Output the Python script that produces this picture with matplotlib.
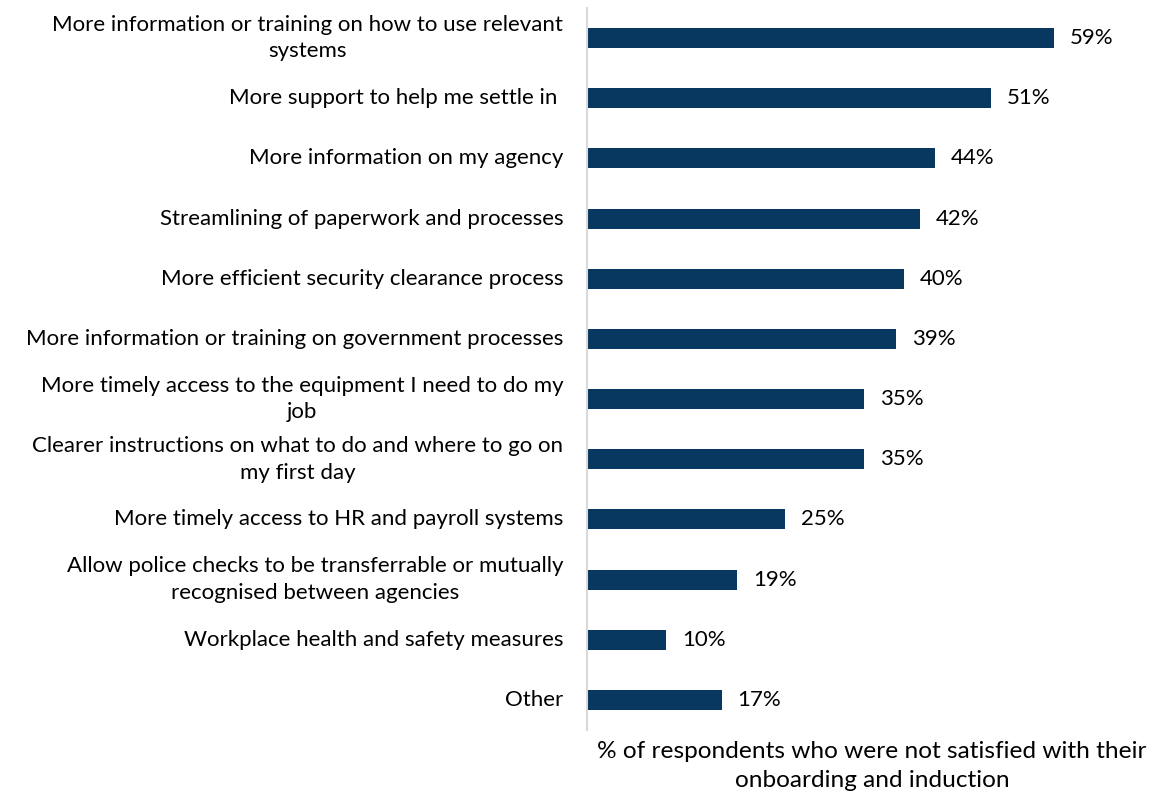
import matplotlib
matplotlib.use('Agg')
import matplotlib.pyplot as plt

# Survey categories (top to bottom) and share of respondents, in %
categories = [
    "More information or training on how to use relevant\nsystems",
    "More support to help me settle in ",
    "More information on my agency",
    "Streamlining of paperwork and processes",
    "More efficient security clearance process",
    "More information or training on government processes",
    "More timely access to the equipment I need to do my\njob",
    "Clearer instructions on what to do and where to go on\nmy first day",
    "More timely access to HR and payroll systems",
    "Allow police checks to be transferrable or mutually\nrecognised between agencies",
    "Workplace health and safety measures",
    "Other",
]
values = [59, 51, 44, 42, 40, 39, 35, 35, 25, 19, 10, 17]

BAR_COLOR = '#08375F'
FONT = 'Lato'
FS = 16
plt.rcParams['font.family'] = [FONT, 'DejaVu Sans']

fig = plt.figure(figsize=(11.68, 7.95), dpi=100)
ax = fig.add_axes([587 / 1168, 1 - 730 / 795, (1157 - 587) / 1168, 722 / 795])

ypos = list(range(len(categories)))
ax.barh(ypos, values, height=0.33, color=BAR_COLOR)
ax.set_ylim(len(categories) - 0.5, -0.5)
ax.set_xlim(0, 72)

# Value labels to the right of each bar
for y, v in zip(ypos, values):
    ax.text(v + 2.0, y, f"{v}%", va='center', ha='left', fontsize=FS, color='black')

# Category labels, right-aligned block with centred lines
for y, label in zip(ypos, categories):
    ax.text(-3.0, y, label, va='center', ha='right', multialignment='center',
            fontsize=FS, color='black', linespacing=1.42)

ax.set_yticks([])
ax.set_xticks([])
for side in ['top', 'right', 'bottom']:
    ax.spines[side].set_visible(False)
ax.spines['left'].set_color('#D9D9D9')
ax.spines['left'].set_linewidth(1.5)

fig.text((587 + 1157) / 2 / 1168, 1 - 766 / 795,
         "% of respondents who were not satisfied with their\nonboarding and induction",
         ha='center', va='center', fontsize=17.6, linespacing=1.42)

fig.savefig('out.png', dpi=100)
